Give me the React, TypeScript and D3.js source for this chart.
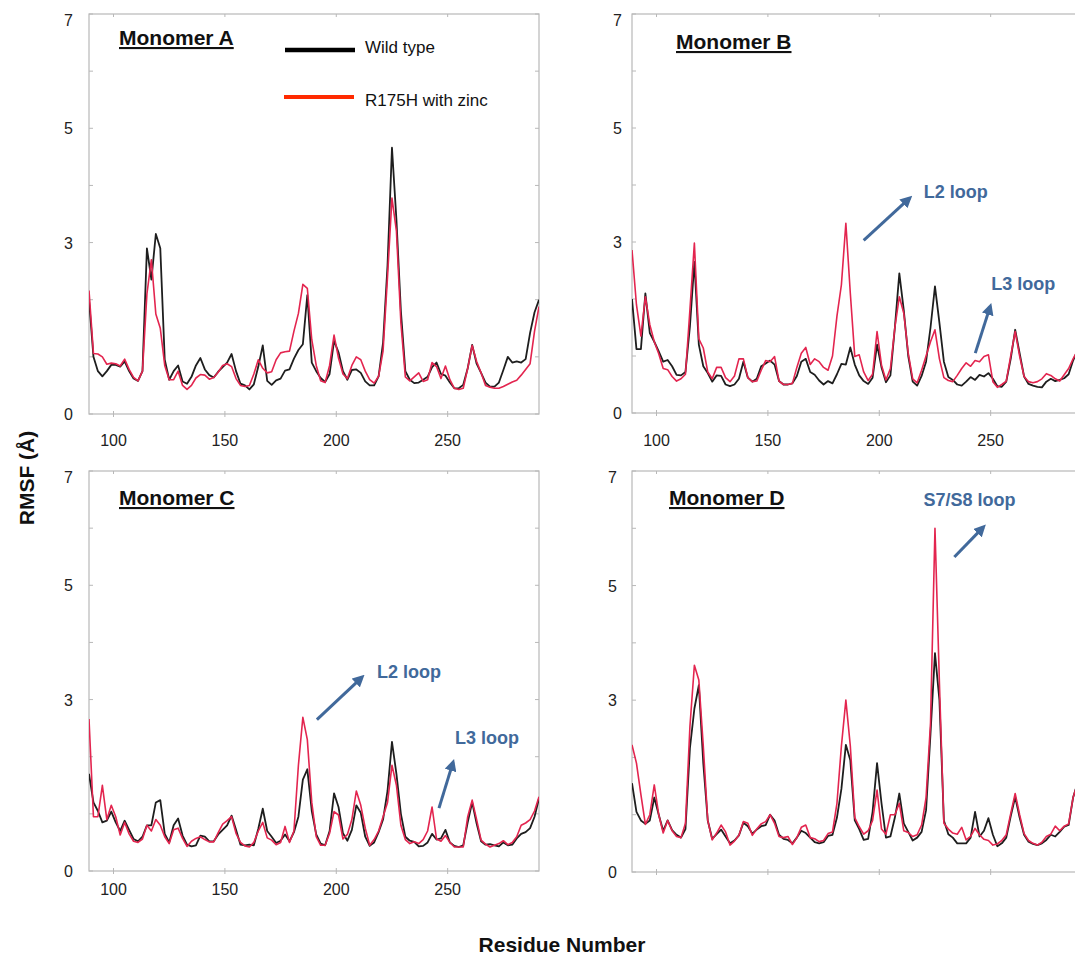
import React from 'react'
import * as d3 from 'd3'

// residue numbers, every second residue from 89 to 291
const residues = d3.range(89, 292, 2)
const xTicks = [100, 150, 200, 250]
const yTicks = [0, 1, 2, 3, 4, 5, 6, 7]
const yLabels = [0, 3, 5, 7]

// RMSF (Å), wild type and R175H with zinc, per monomer
const wildA = [
  2.0, 1.0, 0.75, 0.66, 0.75, 0.86, 0.86, 0.83, 0.92, 0.75,
  0.62, 0.58, 0.75, 2.9, 2.35, 3.15, 2.9, 0.95, 0.6, 0.75,
  0.85, 0.57, 0.53, 0.65, 0.85, 0.98, 0.78, 0.68, 0.64, 0.74,
  0.82, 0.9, 1.05, 0.75, 0.53, 0.5, 0.43, 0.52, 0.83, 1.2,
  0.58, 0.51, 0.59, 0.62, 0.76, 0.78, 0.97, 1.12, 1.22, 2.08,
  0.9, 0.75, 0.63, 0.56, 0.7, 1.28, 1.08, 0.75, 0.6, 0.77,
  0.78, 0.72, 0.57, 0.5, 0.5, 0.66, 1.25, 2.6, 4.66, 3.4,
  1.8, 0.75, 0.6, 0.54, 0.55, 0.6, 0.65, 0.82, 0.9, 0.7,
  0.67, 0.55, 0.45, 0.45, 0.51, 0.8, 1.21, 0.88, 0.72, 0.55,
  0.48, 0.48, 0.55, 0.77, 1.0, 0.9, 0.92, 0.9, 0.96, 1.42,
  1.78, 2.0,
]
const zincA = [
  2.16, 1.06, 1.05, 1.0, 0.87, 0.89, 0.88, 0.84, 0.96, 0.78,
  0.64, 0.58, 0.75, 2.1, 2.7, 1.75, 1.5, 0.85, 0.6, 0.6,
  0.75, 0.5, 0.43, 0.5, 0.63, 0.69, 0.68, 0.61, 0.64, 0.73,
  0.85, 0.88, 0.83, 0.62, 0.5, 0.48, 0.5, 0.7, 0.95, 0.8,
  0.72, 0.74, 0.95, 1.07, 1.09, 1.1, 1.45, 1.76, 2.27, 2.2,
  1.3, 0.85, 0.58, 0.55, 0.85, 1.38, 0.98, 0.7, 0.62, 0.85,
  1.0, 0.95, 0.75, 0.6, 0.54, 0.66, 1.1, 2.4, 3.78, 3.2,
  1.6, 0.65, 0.58, 0.65, 0.72, 0.57, 0.6, 0.9, 0.83, 0.62,
  0.84, 0.6, 0.45, 0.43, 0.45, 0.8, 1.2, 0.92, 0.72, 0.5,
  0.47, 0.45, 0.45, 0.48, 0.52, 0.56, 0.59, 0.68, 0.78, 0.88,
  1.45, 1.88,
]
const wildB = [
  2.0, 1.12, 1.12, 2.1, 1.4, 1.25, 1.08, 0.9, 0.93, 0.82,
  0.67, 0.66, 0.72, 1.52, 2.65, 1.2, 0.82, 0.7, 0.55, 0.66,
  0.65, 0.5, 0.47, 0.5, 0.6, 0.9, 0.62, 0.55, 0.6, 0.82,
  0.87, 0.92, 0.85, 0.56, 0.5, 0.5, 0.52, 0.65, 0.9, 0.95,
  0.72, 0.67, 0.57, 0.5, 0.56, 0.52, 0.68, 0.86, 0.85, 1.15,
  0.85, 0.66, 0.56, 0.51, 0.62, 1.2, 0.8, 0.54, 0.66, 1.5,
  2.45, 1.8, 1.0, 0.55, 0.48, 0.65, 0.9, 1.5, 2.22, 1.58,
  0.9, 0.63, 0.58, 0.5, 0.48, 0.55, 0.63, 0.58, 0.67, 0.64,
  0.7, 0.6, 0.47, 0.46, 0.55, 0.95, 1.46, 1.05, 0.64, 0.51,
  0.48, 0.46, 0.45, 0.55, 0.6, 0.56, 0.58, 0.61, 0.68, 0.92,
  1.1, 1.3,
]
const zincB = [
  2.86, 1.9, 1.35, 2.04, 1.55, 1.25, 1.04, 0.78, 0.76, 0.64,
  0.56, 0.6, 0.68, 1.81, 2.98, 1.3, 1.14, 0.72, 0.6, 0.8,
  0.8, 0.62, 0.55, 0.65, 0.95, 0.95, 0.62, 0.55, 0.56, 0.75,
  0.92, 0.9, 0.99, 0.56, 0.5, 0.5, 0.52, 0.8, 1.05, 1.15,
  0.85, 0.95, 0.9, 0.8, 0.75, 1.0, 1.7, 2.25, 3.33, 2.1,
  0.99, 1.02, 0.72, 0.57, 0.68, 1.43, 0.84, 0.58, 0.78, 1.5,
  2.04, 1.75, 1.05, 0.6, 0.53, 0.75, 1.0, 1.25, 1.46, 0.95,
  0.62, 0.57, 0.55, 0.66, 0.78, 0.88, 0.82, 0.92, 0.9, 0.99,
  1.02, 0.55, 0.45, 0.5, 0.56, 1.0, 1.43, 1.0, 0.64, 0.55,
  0.53, 0.55, 0.6, 0.69, 0.66, 0.6, 0.56, 0.67, 0.78, 0.95,
  1.1, 1.3,
]
const wildC = [
  1.7, 1.2, 1.05, 0.85, 0.88, 1.04, 0.85, 0.7, 0.88, 0.72,
  0.56, 0.52, 0.6, 0.8, 0.8, 1.2, 1.24, 0.65, 0.5, 0.8,
  0.92, 0.62, 0.46, 0.43, 0.45, 0.62, 0.6, 0.52, 0.52, 0.64,
  0.72, 0.8, 0.97, 0.72, 0.46, 0.45, 0.46, 0.45, 0.74, 1.09,
  0.7, 0.6, 0.49, 0.53, 0.64, 0.52, 0.68, 0.95, 1.6, 1.78,
  1.05, 0.64, 0.48, 0.45, 0.7, 1.36, 1.12, 0.66, 0.53, 0.72,
  1.15, 1.02, 0.6, 0.44, 0.5, 0.68, 0.9, 1.4, 2.26, 1.7,
  1.0, 0.6, 0.53, 0.51, 0.43, 0.44, 0.5, 0.65, 0.55, 0.57,
  0.72, 0.5, 0.44, 0.42, 0.45, 0.85, 1.2, 0.83, 0.52, 0.46,
  0.47, 0.45, 0.43, 0.5, 0.45, 0.46, 0.57, 0.65, 0.68, 0.75,
  0.95, 1.27,
]
const zincC = [
  2.66, 0.95, 0.95, 1.5, 0.9, 1.15, 0.95, 0.63, 0.85, 0.65,
  0.52, 0.5, 0.56, 0.8, 0.7, 0.9, 0.8, 0.6, 0.48, 0.72,
  0.75, 0.57, 0.43, 0.52, 0.57, 0.6, 0.55, 0.51, 0.51, 0.67,
  0.82, 0.88, 0.95, 0.66, 0.5, 0.44, 0.42, 0.5, 0.7, 0.85,
  0.58, 0.54, 0.46, 0.5, 0.78, 0.5, 0.7, 1.85, 2.69, 2.3,
  1.2, 0.6, 0.45, 0.45, 0.66, 1.04, 0.98, 0.56, 0.64, 0.9,
  1.4, 1.15, 0.75, 0.45, 0.55, 0.7, 0.95, 1.2, 1.85, 1.5,
  0.8, 0.55, 0.48, 0.51, 0.48, 0.55, 0.7, 1.12, 0.56, 0.52,
  0.62, 0.5, 0.42, 0.42, 0.42, 0.95, 1.24, 0.9, 0.54, 0.47,
  0.42, 0.45, 0.48, 0.53, 0.46, 0.5, 0.6, 0.8, 0.84, 0.9,
  1.05, 1.3,
]
const wildD = [
  1.55, 1.05, 0.9, 0.84, 0.9, 1.3, 1.0, 0.72, 0.9, 0.73,
  0.65, 0.6, 0.75, 2.16, 2.85, 3.26, 1.9, 0.9, 0.58, 0.66,
  0.74, 0.62, 0.5, 0.55, 0.64, 0.86, 0.8, 0.67, 0.74, 0.8,
  0.82, 1.0, 0.9, 0.65, 0.58, 0.56, 0.5, 0.6, 0.72, 0.68,
  0.6, 0.52, 0.5, 0.52, 0.63, 0.65, 0.95, 1.45, 2.22, 1.95,
  0.9, 0.75, 0.56, 0.58, 1.05, 1.9, 1.2, 0.6, 0.62, 0.95,
  1.37, 0.85, 0.7, 0.55, 0.6, 0.7, 1.08, 2.42, 3.82, 3.0,
  0.9, 0.66, 0.6, 0.5, 0.5, 0.5, 0.6, 1.05, 0.62, 0.72,
  0.94, 0.65, 0.45, 0.5, 0.6, 0.97, 1.31, 0.95, 0.65, 0.53,
  0.49, 0.47, 0.5, 0.56, 0.65, 0.62, 0.7, 0.79, 0.82, 1.3,
  1.55, 1.7,
]
const zincD = [
  2.22, 1.9, 1.35, 0.83, 1.0, 1.52, 1.0, 0.68, 0.9, 0.72,
  0.62, 0.6, 0.85, 2.54, 3.61, 3.35, 2.2, 0.9, 0.56, 0.68,
  0.82, 0.7, 0.47, 0.54, 0.64, 0.88, 0.85, 0.64, 0.75, 0.84,
  0.88, 1.0, 0.85, 0.62, 0.6, 0.62, 0.48, 0.6, 0.78, 0.82,
  0.6, 0.58, 0.53, 0.55, 0.67, 0.7, 1.2, 2.2, 3.0, 2.2,
  0.95, 0.79, 0.66, 0.72, 0.9, 1.43, 0.75, 0.66, 1.0, 1.0,
  1.2, 0.72, 0.69, 0.62, 0.65, 0.82, 1.3, 2.6, 6.0, 3.29,
  0.85, 0.75, 0.68, 0.66, 0.78, 0.56, 0.62, 0.76, 0.65, 0.57,
  0.55, 0.47, 0.49, 0.55, 0.65, 1.02, 1.37, 1.0, 0.67, 0.55,
  0.5, 0.47, 0.52, 0.62, 0.66, 0.8, 0.72, 0.8, 0.84, 1.3,
  1.55, 1.7,
]

const seriesNames = ['Wild type', 'R175H with zinc']

// loop labels, placed in data units (residue, RMSF)
const notesB = [
  { label: 'L2 loop', at: [220, 3.77], from: [193, 3.03], to: [213.6, 3.77] },
  { label: 'L3 loop', at: [250.3, 2.15], from: [243.1, 1.05], to: [249.8, 1.87] },
]
const notesC = [
  { label: 'L2 loop', at: [218.3, 3.37], from: [191.3, 2.65], to: [211.5, 3.39] },
  { label: 'L3 loop', at: [253.3, 2.22], from: [246.1, 1.1], to: [252.4, 1.9] },
]
const notesD = [
  { label: 'S7/S8 loop', at: [219.8, 6.39], from: [233.7, 5.5], to: [246.7, 6.02] },
]

const font = "'Liberation Sans', Arial, Helvetica, sans-serif"
const wildColor = '#1e1e1e'
const zincColor = '#e3254f'
const noteColor = '#41699b'
const frameColor = '#b8b8b8'

const panels = [
  { title: 'Monomer A', wild: wildA, zinc: zincA, notes: [], left: 89, top: 14, bottom: 414, titleX: 119, titleY: 45, gap: 16, xLabelY: 446, legend: true },
  { title: 'Monomer B', wild: wildB, zinc: zincB, notes: notesB, left: 632, top: 14, bottom: 413, titleX: 676, titleY: 49, gap: 10, xLabelY: 446 },
  { title: 'Monomer C', wild: wildC, zinc: zincC, notes: notesC, left: 89, top: 471, bottom: 871, titleX: 119, titleY: 505, gap: 16, xLabelY: 895 },
  { title: 'Monomer D', wild: wildD, zinc: zincD, notes: notesD, left: 632, top: 471, bottom: 872, titleX: 669, titleY: 505, gap: 15, xLabelY: null },
]

function Panel({ p, idx }: { p: any; idx: number }) {
  const w = 450
  const x = d3.scaleLinear().domain([89, 291]).range([p.left, p.left + w])
  const y = d3.scaleLinear().domain([0, 7]).range([p.bottom, p.top])
  const line = d3.line<number>().x((_, i) => x(residues[i])).y(d => y(d))
  const clipId = 'clip' + idx

  return (
    <g>
      <clipPath id={clipId}>
        <rect x={p.left} y={p.top} width={w} height={p.bottom - p.top} />
      </clipPath>
      <rect x={p.left} y={p.top} width={w} height={p.bottom - p.top} fill="none" stroke={frameColor} strokeWidth={1.2} />
      {yTicks.map(t => (
        <g key={'yt' + t}>
          <line x1={p.left} x2={p.left + 4} y1={y(t)} y2={y(t)} stroke={frameColor} />
          <line x1={p.left + w - 4} x2={p.left + w} y1={y(t)} y2={y(t)} stroke={frameColor} />
        </g>
      ))}
      {xTicks.map(t => (
        <g key={'xt' + t}>
          <line x1={x(t)} x2={x(t)} y1={p.bottom - 3} y2={p.bottom + 3} stroke={frameColor} />
          <line x1={x(t)} x2={x(t)} y1={p.top} y2={p.top + 3} stroke={frameColor} />
        </g>
      ))}
      {yLabels.map(t => (
        <text key={'yl' + t} x={p.left - p.gap} y={Math.max(y(t), p.top + 6) + 6} textAnchor="end"
          fontSize={16} fontFamily={font} fill="#222">{t}</text>
      ))}
      {p.xLabelY !== null && xTicks.map(t => (
        <text key={'xl' + t} x={x(t)} y={p.xLabelY} textAnchor="middle" fontSize={16} fontFamily={font} fill="#222">{t}</text>
      ))}
      <g clipPath={`url(#${clipId})`}>
        <path d={line(p.wild) || ''} fill="none" stroke={wildColor} strokeWidth={1.8} strokeLinejoin="round" />
        <path d={line(p.zinc) || ''} fill="none" stroke={zincColor} strokeWidth={1.6} strokeLinejoin="round" />
      </g>
      <text x={p.titleX} y={p.titleY} fontSize={21} fontWeight="bold" fontFamily={font} fill="#111"
        style={{ textDecoration: 'underline' }}>{p.title}</text>
      {p.notes.map((n: any) => (
        <g key={n.label}>
          <line x1={x(n.from[0])} y1={y(n.from[1])} x2={x(n.to[0])} y2={y(n.to[1])}
            stroke={noteColor} strokeWidth={3} markerEnd="url(#arrow)" />
          <text x={x(n.at[0])} y={y(n.at[1])} fontSize={18} fontWeight="bold" fontFamily={font} fill={noteColor}>{n.label}</text>
        </g>
      ))}
      {p.legend && (
        <g>
          <line x1={285} x2={355} y1={50} y2={50} stroke="#000" strokeWidth={4.5} />
          <text x={365} y={53} fontSize={17} fontFamily={font} fill="#111">{seriesNames[0]}</text>
          <line x1={284} x2={354} y1={97} y2={97} stroke="#ff2a00" strokeWidth={4} />
          <text x={365} y={106} fontSize={17} fontFamily={font} fill="#111">{seriesNames[1]}</text>
        </g>
      )}
    </g>
  )
}

export default function App() {
  return (
    <svg width={1075} height={960} style={{ position: 'absolute', left: 0, top: 0, background: '#fff' }}>
      <defs>
        <marker id="arrow" viewBox="0 0 10 10" refX={7} refY={5} markerWidth={4} markerHeight={4} orient="auto">
          <path d="M0,0 L10,5 L0,10 z" fill={noteColor} />
        </marker>
      </defs>
      <rect width={1075} height={960} fill="#fff" />
      {panels.map((p, i) => <Panel key={p.title} p={p} idx={i} />)}
      <text transform="translate(34,478) rotate(-90)" textAnchor="middle" fontSize={21} fontWeight="bold" fontFamily={font} fill="#111">RMSF (Å)</text>
      <text x={562} y={952} textAnchor="middle" fontSize={21} fontWeight="bold" fontFamily={font} fill="#111">Residue Number</text>
    </svg>
  )
}
